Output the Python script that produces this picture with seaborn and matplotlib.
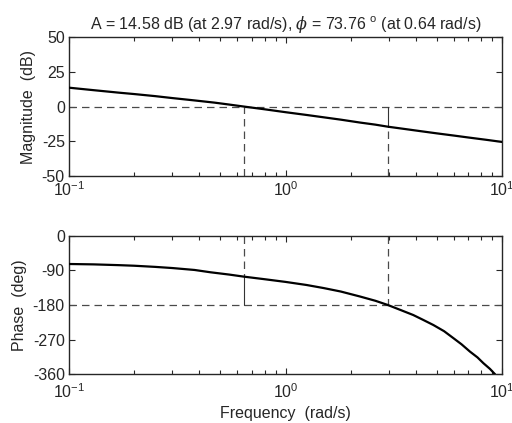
import numpy as np
import pandas as pd
import matplotlib
matplotlib.use("Agg")
import matplotlib.pyplot as plt
import seaborn as sns
from matplotlib.ticker import LogLocator, FixedLocator

# ---- data ----
mag_freq = [0.1, 0.13, 0.17, 0.2, 0.25, 0.3, 0.38, 0.47, 0.55, 0.64, 0.8, 1.0, 1.25, 1.5, 1.8, 2.21, 2.6, 2.97, 3.5, 4.2, 5.0, 6.0, 7.0, 8.5, 10.0]
mag_db = [13.6, 11.8, 10.0, 9.0, 7.5, 6.1, 4.4, 2.8, 1.4, 0.0, -2.0, -4.1, -6.1, -7.8, -9.5, -11.6, -13.1, -14.58, -16.1, -17.8, -19.4, -21.0, -22.4, -24.1, -25.6]

ph_freq = [0.1, 0.13, 0.17, 0.2, 0.25, 0.3, 0.38, 0.45, 0.55, 0.64, 0.8, 1.0, 1.25, 1.5, 1.8, 2.21, 2.6, 2.97,
           3.4, 3.89, 4.3, 4.82, 5.4, 5.96, 6.5, 7.11, 7.7, 8.2, 8.8, 9.29]
ph_deg = [-73.5, -74.5, -76.5, -78.0, -81.0, -84.0, -89.0, -95.0, -101.0, -106.24, -113.0, -120.0, -128.0, -136.0, -145.0, -158.0, -169.0, -180.0,
          -193.0, -206.0, -218.0, -232.0, -248.0, -266.0, -282.0, -301.0, -316.0, -331.0, -346.0, -360.0]

gm_freq = 2.97
gm_db = -14.58
pm_freq = 0.64
pm_phase = -106.24
title_text = r"A = 14.58 dB (at 2.97 rad/s), $\mathit{\phi}$ = 73.76 $^{\mathrm{o}}$ (at 0.64 rad/s)"

mag_ticks = [50, 25, 0, -25, -50]
ph_ticks = [0, -90, -180, -270, -360]

sns.set_style("ticks")
plt.rcParams["font.family"] = ["Liberation Sans", "DejaVu Sans"]
plt.rcParams["mathtext.fontset"] = "custom"
plt.rcParams["mathtext.rm"] = "Liberation Sans"
plt.rcParams["mathtext.sf"] = "Liberation Sans"
plt.rcParams["mathtext.it"] = "DejaVu Serif:italic"
plt.rcParams["mathtext.default"] = "regular"

FS = 11.5
fig = plt.figure(figsize=(5.12, 4.23), dpi=100)
ax1 = fig.add_axes([0.1348, 0.5846, 0.8457, 0.3272])
ax2 = fig.add_axes([0.1348, 0.1151, 0.8457, 0.3277])

df_mag = pd.DataFrame({"w": mag_freq, "m": mag_db})
df_ph = pd.DataFrame({"w": ph_freq, "p": ph_deg})

dash_kw = dict(color="#4a4a4a", lw=0.9, dashes=(6, 4))

# Magnitude axis
ax1.axhline(0, **dash_kw, zorder=1)
ax1.plot([pm_freq, pm_freq], [-50, 0], **dash_kw, zorder=1)
ax1.plot([gm_freq, gm_freq], [-50, gm_db], **dash_kw, zorder=1)
ax1.plot([gm_freq, gm_freq], [gm_db, 0], color="#333333", lw=0.8, zorder=1)
sns.lineplot(data=df_mag, x="w", y="m", ax=ax1, color="black", lw=1.6, zorder=3)

# Phase axis
ax2.axhline(-180, **dash_kw, zorder=1)
ax2.plot([gm_freq, gm_freq], [0, -180], **dash_kw, zorder=1)
ax2.plot([pm_freq, pm_freq], [0, pm_phase], **dash_kw, zorder=1)
ax2.plot([pm_freq, pm_freq], [pm_phase, -180], color="#333333", lw=0.8, zorder=1)
sns.lineplot(data=df_ph, x="w", y="p", ax=ax2, color="black", lw=1.6, zorder=3)

for ax, yt, lim in [(ax1, mag_ticks, (-50, 50)), (ax2, ph_ticks, (-360, 0))]:
    ax.set_xscale("log")
    ax.set_xlim(0.1, 10)
    ax.set_ylim(*lim)
    ax.yaxis.set_major_locator(FixedLocator(yt))
    ax.set_yticklabels([str(t) for t in yt])
    ax.xaxis.set_major_locator(LogLocator(base=10, numticks=10))
    ax.xaxis.set_minor_locator(LogLocator(base=10, subs=np.arange(2, 10), numticks=20))
    ax.tick_params(which="both", direction="in", top=True, right=True, labelsize=FS, pad=3, width=0.8)
    ax.tick_params(which="major", length=4.5)
    ax.tick_params(which="minor", length=3)
    for s in ax.spines.values():
        s.set_linewidth(1.0)
        s.set_visible(True)
    ax.set_xlabel("")

ax2.tick_params(axis="x", which="both", pad=6)

ax1.set_ylabel("Magnitude  (dB)", fontsize=FS, labelpad=4)
ax2.set_ylabel("Phase  (deg)", fontsize=FS, labelpad=4)
ax2.set_xlabel("Frequency  (rad/s)", fontsize=FS, labelpad=3)
ax1.set_title(title_text, fontsize=FS, pad=6)

fig.savefig("out.png", dpi=100)
